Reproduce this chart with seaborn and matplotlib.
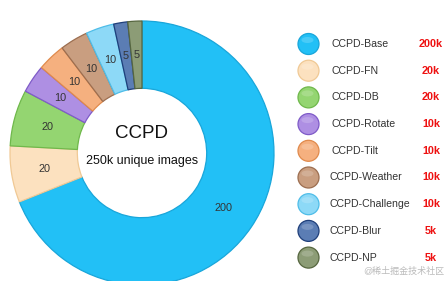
import matplotlib
matplotlib.use("Agg")
import matplotlib.pyplot as plt
import seaborn as sns
from matplotlib.patches import Circle, Ellipse

sns.set_theme(style="white")
plt.rcParams['font.family'] = ['Liberation Sans', 'Noto Sans CJK SC', 'DejaVu Sans']

categories = ["CCPD-Base", "CCPD-FN", "CCPD-DB", "CCPD-Rotate", "CCPD-Tilt",
              "CCPD-Weather", "CCPD-Challenge", "CCPD-Blur", "CCPD-NP"]
values = [200, 20, 20, 10, 10, 10, 10, 5, 5]
legend_values = ["200k", "20k", "20k", "10k", "10k", "10k", "10k", "5k", "5k"]
center_title = "CCPD"
center_sub = "250k unique images"
watermark = "@稀土掘金技术社区"

colors = ["#22C0F6", "#FCE1BF", "#94D571", "#AE8FE3", "#F5B07F",
          "#C99E80", "#8DD9F7", "#5B7DB4", "#8C9C76"]
edges = ["#19A6DA", "#F0C995", "#6FB84B", "#7F5BC8", "#E08A4C",
         "#9C6E50", "#4FBDE8", "#1F3F7A", "#56663F"]
palette = sns.color_palette(colors)

W, H = 446, 281
fig = plt.figure(figsize=(W / 100, H / 100), dpi=100)

cx, cy, R = 142, 153, 132
ax = fig.add_axes([(cx - R) / W, (H - cy - R) / H, 2 * R / W, 2 * R / H])
total = sum(values)
wedges, _, autotexts = ax.pie(
    values, colors=palette, startangle=90, counterclock=False, radius=1,
    autopct=lambda p: f"{p * total / 100:.0f}", pctdistance=0.745,
    wedgeprops=dict(width=0.51, linewidth=0.9),
    textprops=dict(fontsize=7.8, color="#333333"))
for w, e in zip(wedges, edges):
    w.set_edgecolor(e)
ax.set_xlim(-1, 1)
ax.set_ylim(-1, 1)
ax.set_aspect("auto")
ax.axis("off")
ax.text(0, 0.15, center_title, ha="center", va="center", fontsize=13.5, color="#111111")
ax.text(0, -0.06, center_sub, ha="center", va="center", fontsize=9, color="#111111")

# legend in pixel coordinates
lg = fig.add_axes([0, 0, 1, 1])
lg.set_xlim(0, W)
lg.set_ylim(H, 0)
lg.axis("off")
lg.patch.set_alpha(0)
y0, dy = 44, 26.7
for i, (cat, val, c, e) in enumerate(zip(categories, legend_values, colors, edges)):
    y = y0 + i * dy
    lg.add_patch(Circle((308.5, y), 10.5, facecolor=c, edgecolor=e, linewidth=0.9))
    lg.add_patch(Ellipse((307.5, y - 4), 12, 6, facecolor="white", alpha=0.18, linewidth=0))
    lx = 331 if i < 5 else 329
    lg.text(lx, y, cat, ha="left", va="center", fontsize=7.6, color="#333333")
    lg.text(431, y, val, ha="center", va="center", fontsize=7.8, color="#EE1111",
            fontweight="bold")

lg.text(444, 271, watermark, ha="right", va="center", fontsize=6.5, color="#BBBBBB")

fig.savefig("out.png", dpi=100)
